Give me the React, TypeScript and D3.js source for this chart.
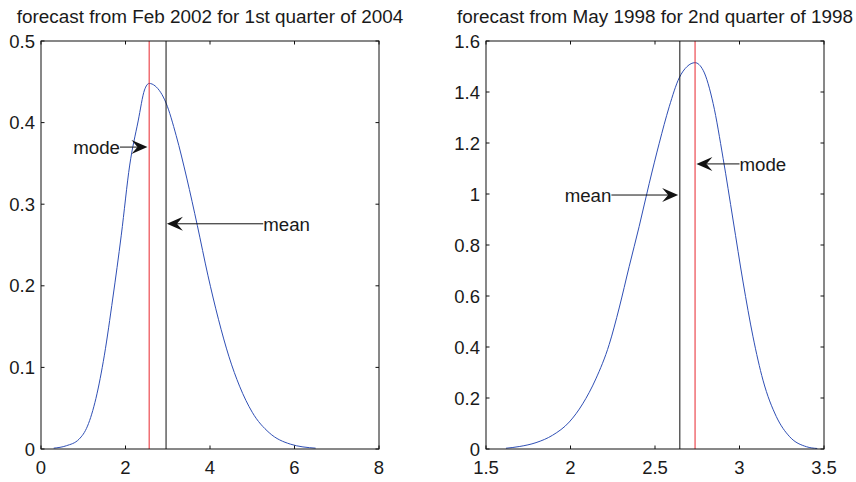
import * as d3 from 'd3';
import { useEffect, useRef } from 'react';

// left panel: forecast density, Feb 2002 for 2004Q1
const leftTitle = 'forecast from Feb 2002 for 1st quarter of 2004';
const leftX = [0.3, 0.6, 0.9, 1.1, 1.3, 1.5, 1.7, 1.9, 2.1, 2.3, 2.45, 2.56, 2.7, 2.96, 3.2, 3.45, 3.7, 3.95, 4.2, 4.45, 4.7, 5.0, 5.4, 5.9, 6.5];
const leftY = [0.001, 0.004, 0.012, 0.028, 0.062, 0.115, 0.185, 0.262, 0.348, 0.402, 0.44, 0.448, 0.445, 0.424, 0.384, 0.332, 0.274, 0.213, 0.159, 0.113, 0.077, 0.045, 0.02, 0.006, 0.001];
const leftXTicks = [0, 2, 4, 6, 8];
const leftYTicks = [0, 0.1, 0.2, 0.3, 0.4, 0.5];
const leftMode = 2.56;
const leftMean = 2.96;

// right panel: forecast density, May 1998 for 1998Q2
const rightTitle = 'forecast from May 1998 for 2nd quarter of 1998';
const rightX = [1.618, 1.7, 1.796, 1.894, 1.993, 2.072, 2.15, 2.229, 2.288, 2.347, 2.406, 2.466, 2.525, 2.584, 2.643, 2.69, 2.737, 2.785, 2.844, 2.903, 2.962, 3.021, 3.08, 3.139, 3.218, 3.297, 3.396, 3.46];
const rightY = [0.003, 0.01, 0.025, 0.054, 0.106, 0.177, 0.275, 0.41, 0.553, 0.715, 0.872, 1.042, 1.199, 1.342, 1.455, 1.5, 1.515, 1.485, 1.355, 1.14, 0.898, 0.655, 0.44, 0.27, 0.127, 0.048, 0.009, 0.002];
const rightXTicks = [1.5, 2, 2.5, 3, 3.5];
const rightYTicks = [0, 0.2, 0.4, 0.6, 0.8, 1, 1.2, 1.4, 1.6];
const rightMode = 2.737;
const rightMean = 2.647;

// text arrows: [label, text-end x, y, arrow tip x]
const leftArrows: [string, number, number, number][] = [
  ['mode', 1.87, 0.37, 2.52],
  ['mean', 5.26, 0.276, 2.98],
];
const rightArrows: [string, number, number, number][] = [
  ['mean', 2.242, 0.996, 2.637],
  ['mode', 3.0, 1.118, 2.745],
];

const BLUE = '#2f4fb5';
const RED = '#e8262e';
const FONT = '"Liberation Sans", Arial, Helvetica, sans-serif';

interface Panel {
  title: string;
  xs: number[];
  ys: number[];
  xDomain: [number, number];
  yDomain: [number, number];
  xTicks: number[];
  yTicks: number[];
  mode: number;
  mean: number;
  arrows: [string, number, number, number][];
  left: number;
  right: number;
}

const panels: Panel[] = [
  {
    title: leftTitle, xs: leftX, ys: leftY, xDomain: [0, 8], yDomain: [0, 0.5],
    xTicks: leftXTicks, yTicks: leftYTicks, mode: leftMode, mean: leftMean,
    arrows: leftArrows, left: 41, right: 379,
  },
  {
    title: rightTitle, xs: rightX, ys: rightY, xDomain: [1.5, 3.5], yDomain: [0, 1.6],
    xTicks: rightXTicks, yTicks: rightYTicks, mode: rightMode, mean: rightMean,
    arrows: rightArrows, left: 486, right: 824,
  },
];

const TOP = 41;
const BOTTOM = 449;

const App = () => {
  const ref = useRef<SVGSVGElement | null>(null);

  useEffect(() => {
    if (!ref.current) return;
    const svg = d3.select(ref.current);
    svg.selectAll('*').remove();

    panels.forEach((p) => {
      const x = d3.scaleLinear().domain(p.xDomain).range([p.left, p.right]);
      const y = d3.scaleLinear().domain(p.yDomain).range([BOTTOM, TOP]);
      const g = svg.append('g');

      // density curve
      const pts = p.xs.map((v, i) => [v, p.ys[i]] as [number, number]);
      const line = d3
        .line<[number, number]>()
        .x((d) => x(d[0]))
        .y((d) => y(d[1]))
        .curve(d3.curveMonotoneX);
      g.append('path')
        .attr('d', line(pts))
        .attr('fill', 'none')
        .attr('stroke', BLUE)
        .attr('stroke-width', 1);

      // mode and mean lines
      g.append('line')
        .attr('x1', x(p.mode)).attr('x2', x(p.mode))
        .attr('y1', TOP).attr('y2', BOTTOM)
        .attr('stroke', RED).attr('stroke-width', 1);
      g.append('line')
        .attr('x1', x(p.mean)).attr('x2', x(p.mean))
        .attr('y1', TOP).attr('y2', BOTTOM)
        .attr('stroke', '#111').attr('stroke-width', 1);

      // box
      g.append('rect')
        .attr('x', p.left).attr('y', TOP)
        .attr('width', p.right - p.left).attr('height', BOTTOM - TOP)
        .attr('fill', 'none').attr('stroke', '#111').attr('stroke-width', 1);

      const tl = 3.5;
      p.xTicks.forEach((t) => {
        g.append('line').attr('x1', x(t)).attr('x2', x(t)).attr('y1', BOTTOM).attr('y2', BOTTOM - tl).attr('stroke', '#111');
        g.append('line').attr('x1', x(t)).attr('x2', x(t)).attr('y1', TOP).attr('y2', TOP + tl).attr('stroke', '#111');
        g.append('text')
          .attr('x', x(t)).attr('y', BOTTOM + 12)
          .attr('dy', '0.72em')
          .attr('text-anchor', 'middle')
          .attr('font-family', FONT).attr('font-size', 18.5).attr('fill', '#1a1a1a')
          .text(String(t));
      });
      p.yTicks.forEach((t) => {
        g.append('line').attr('x1', p.left).attr('x2', p.left + tl).attr('y1', y(t)).attr('y2', y(t)).attr('stroke', '#111');
        g.append('line').attr('x1', p.right).attr('x2', p.right - tl).attr('y1', y(t)).attr('y2', y(t)).attr('stroke', '#111');
        g.append('text')
          .attr('x', p.left - 6).attr('y', y(t))
          .attr('dy', '0.36em')
          .attr('text-anchor', 'end')
          .attr('font-family', FONT).attr('font-size', 18.5).attr('fill', '#1a1a1a')
          .text(String(Math.round(t * 10) / 10));
      });

      // title
      g.append('text')
        .attr('x', (p.left + p.right) / 2).attr('y', 23)
        .attr('text-anchor', 'middle')
        .attr('font-family', FONT).attr('font-size', 18.9).attr('fill', '#1a1a1a')
        .text(p.title);

      // text arrows
      p.arrows.forEach(([label, tx, ty, hx]) => {
        const x0 = x(tx);
        const x1 = x(hx);
        const yy = y(ty);
        const dir = Math.sign(x1 - x0);
        const L = 16;
        const W = 7;
        const N = 10;
        g.append('line')
          .attr('x1', x0).attr('x2', x1 - dir * N)
          .attr('y1', yy).attr('y2', yy)
          .attr('stroke', '#111').attr('stroke-width', 1);
        const head = [
          [x1, yy],
          [x1 - dir * L, yy - W],
          [x1 - dir * N, yy],
          [x1 - dir * L, yy + W],
        ];
        g.append('path')
          .attr('d', 'M' + head.map((q) => q.join(',')).join('L') + 'Z')
          .attr('fill', '#111');
        g.append('text')
          .attr('x', x0).attr('y', yy)
          .attr('dy', '0.36em')
          .attr('text-anchor', dir > 0 ? 'end' : 'start')
          .attr('font-family', FONT).attr('font-size', 18.7).attr('fill', '#1a1a1a')
          .text(label);
      });
    });
  }, []);

  return (
    <div style={{ position: 'absolute', left: 0, top: 0, background: '#fff' }}>
      <svg ref={ref} width={856} height={482} />
    </div>
  );
};

export default App;
